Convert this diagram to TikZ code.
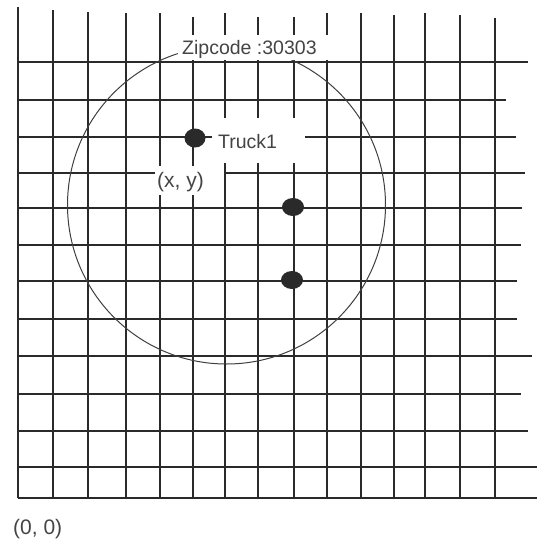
\documentclass[tikz,border=0pt]{standalone}
\usepackage{fontspec}
\setmainfont{Liberation Sans}
\definecolor{gridc}{HTML}{2A2A2A}
\definecolor{txtc}{HTML}{444444}
\tikzset{
  gridline/.style={draw=gridc, line width=1.4pt},
  zonecircle/.style={draw=gridc!90, line width=1pt},
  mask/.style={fill=white, draw=none},
  lbl/.style={text=txtc, font=\fontsize{19.5}{22}\selectfont, inner sep=0pt, anchor=base west},
  widelbl/.style={lbl, font=\fontsize{21}{24}\selectfont},
  truckdot/.style={fill=gridc, draw=none}
}
\begin{document}
\begin{tikzpicture}[x=1pt, y=-1pt]
\useasboundingbox (0,0) rectangle (537,539);
% vertical grid lines
\foreach \x/\t in {18/7, 53/10, 88/12, 126/13, 160/13, 193/17, 225/13, 258/17, 294/17, 327/13, 361/13, 394/15, 425/13, 460/15, 495/18}
  \draw[gridline] (\x,\t) -- (\x,498);
% horizontal grid lines
\foreach \y/\r in {62/528, 100/506, 137/516, 173/525, 208/522, 245/521, 281/517, 319/517, 356/532, 394/521, 431/528, 467/537, 498/537}
  \draw[gridline] (18,\y) -- (\r,\y);
% zipcode circle
\draw[zonecircle] (226.5,205) circle [radius=159];
% masks behind labels
\fill[mask] (178,35) rectangle (330,60);
\fill[mask] (212,118) rectangle (305,163);
\fill[mask] (155,166) rectangle (224,195);
% labels
\node[lbl] (zip) at (182,54) {Zipcode :30303};
\node[lbl] (truck) at (218,148) {Truck1};
\node[widelbl] (xy) at (157,187) {(x, y)};
\node[widelbl] (origin) at (13,534) {(0, 0)};
% trucks
\fill[truckdot] (195,138) ellipse [x radius=10.5, y radius=9.5];
\fill[truckdot] (293,207) ellipse [x radius=11, y radius=9];
\fill[truckdot] (292,280) ellipse [x radius=11, y radius=9];
\end{tikzpicture}
\end{document}
